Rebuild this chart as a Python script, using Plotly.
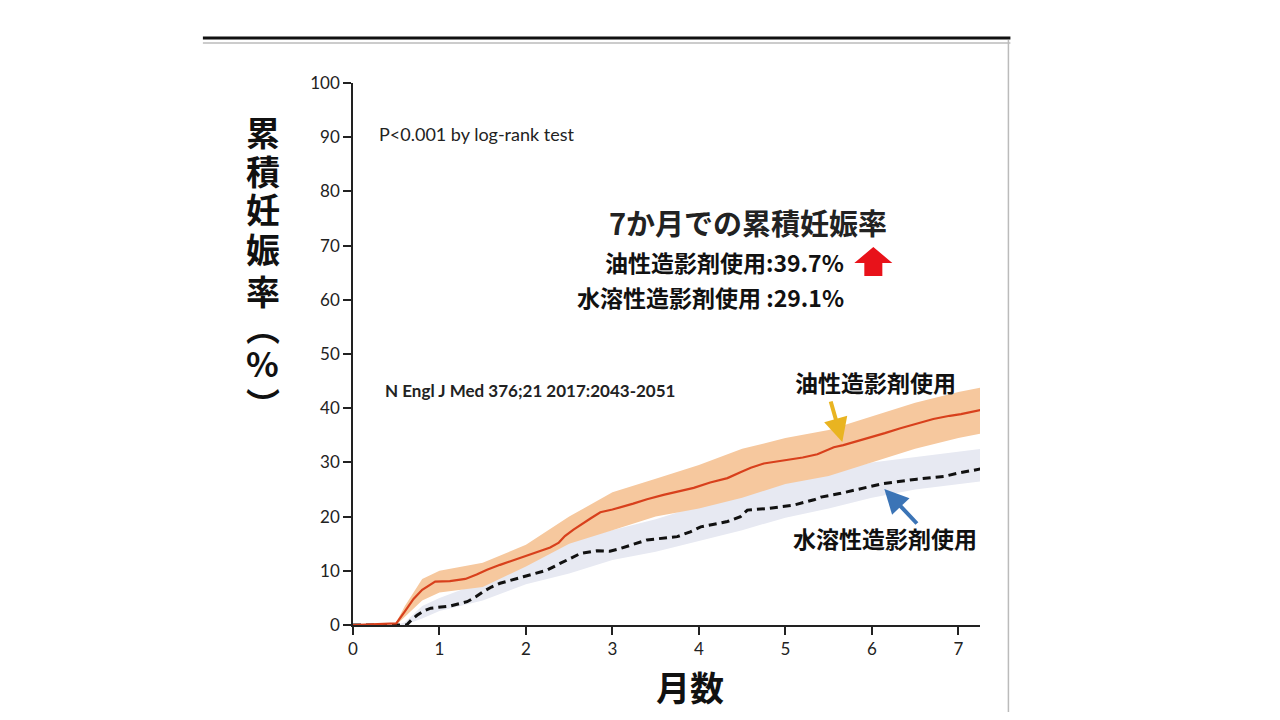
import plotly.graph_objects as go

# Kaplan-Meier style cumulative pregnancy curves
oil_months = [0, 0.5, 0.6, 0.7, 0.8, 0.95, 1.12, 1.3, 1.43, 1.55, 1.7, 1.85, 2.01, 2.15, 2.28,
              2.38, 2.45, 2.55, 2.65, 2.75, 2.86, 3.0, 3.24, 3.4, 3.59, 3.8, 3.94, 4.13, 4.33,
              4.48, 4.6, 4.75, 5.02, 5.2, 5.37, 5.56, 5.67, 5.95, 6.15, 6.33, 6.5, 6.71, 6.9,
              7.03, 7.26]
oil_rate = [0, 0.3, 2.5, 4.8, 6.5, 8.0, 8.1, 8.5, 9.3, 10.2, 11.1, 11.9, 12.8, 13.5, 14.3,
            15.2, 16.4, 17.6, 18.7, 19.7, 20.8, 21.3, 22.4, 23.2, 24.0, 24.8, 25.3, 26.3, 27.1,
            28.2, 29.0, 29.8, 30.4, 30.9, 31.5, 32.8, 33.2, 34.4, 35.4, 36.3, 37.1, 38.0, 38.6,
            38.9, 39.7]

water_months = [0, 0.62, 0.68, 0.74, 0.82, 0.9, 1.12, 1.32, 1.42, 1.51, 1.6, 1.7, 1.97, 2.24,
                2.4, 2.52, 2.63, 2.82, 2.97, 3.09, 3.25, 3.4, 3.75, 3.9, 4.02, 4.33, 4.48, 4.56,
                4.79, 5.09, 5.33, 5.41, 5.64, 5.87, 6.13, 6.52, 6.83, 6.99, 7.26]
water_rate = [0, 0, 1.0, 1.8, 2.6, 3.1, 3.5, 4.3, 5.2, 6.2, 7.0, 7.7, 8.9, 10.1,
              11.4, 12.3, 13.2, 13.7, 13.6, 14.1, 14.9, 15.7, 16.3, 17.2, 18.1, 19.1, 20.0, 21.2,
              21.5, 22.1, 23.1, 23.6, 24.3, 25.2, 26.1, 26.9, 27.4, 28.0, 28.8]

# confidence bands
band_months = [0.5, 0.6, 0.8, 1.0, 1.5, 2.0, 2.5, 3.0, 3.5, 4.0, 4.5, 5.0, 5.5, 6.0, 6.5, 7.0, 7.26]
oil_upper = [0.5, 3.5, 8.5, 10.0, 11.5, 14.8, 20.0, 24.5, 27.0, 29.5, 32.5, 34.5, 36.0, 38.5, 41.0, 43.0, 43.8]
oil_lower = [0, 1.5, 4.5, 6.0, 7.0, 10.8, 15.0, 17.5, 20.0, 21.5, 23.5, 26.0, 27.5, 30.0, 32.5, 34.5, 35.3]
water_upper = [0, 0.5, 3.5, 5.0, 8.0, 11.5, 15.5, 17.5, 19.5, 22.0, 24.5, 26.5, 28.0, 30.0, 31.0, 32.0, 32.5]
water_lower = [0, 0, 1.2, 2.6, 4.5, 7.5, 9.5, 12.0, 13.5, 15.5, 17.5, 19.8, 21.5, 23.5, 25.0, 26.0, 26.5]

x_ticks = [0, 1, 2, 3, 4, 5, 6, 7]
y_ticks = [0, 10, 20, 30, 40, 50, 60, 70, 80, 90, 100]
y_title_chars = ["累", "積", "妊", "娠", "率", "︵", "%", "︶"]

# plot area in screen pixels (page body adds an 8px offset)
OFF = 8
L, R, T, B = 353, 979.6, 83, 625
W, H = R - L, B - T


def px(x):
    return (x - L) / W


def py(y):
    return (B - y) / H


JP = "Noto Sans CJK JP"
fig = go.Figure()

# bands
fig.add_trace(go.Scatter(x=band_months + band_months[::-1], y=water_upper + water_lower[::-1],
                         fill="toself", fillcolor="#e7e9f2", line=dict(width=0),
                         mode="lines", hoverinfo="skip", showlegend=False))
fig.add_trace(go.Scatter(x=band_months + band_months[::-1], y=oil_upper + oil_lower[::-1],
                         fill="toself", fillcolor="#f6c89e", line=dict(width=0),
                         mode="lines", hoverinfo="skip", showlegend=False))

# curves
fig.add_trace(go.Scatter(x=water_months, y=water_rate, mode="lines",
                         line=dict(color="#111111", width=3, dash="8px,5px"),
                         name="水溶性造影剤使用", showlegend=False))
fig.add_trace(go.Scatter(x=oil_months, y=oil_rate, mode="lines",
                         line=dict(color="#d8401c", width=2.2),
                         name="油性造影剤使用", showlegend=False))

ann = []
# vertical y title, one glyph per annotation (tightly stacked like the slide)
y_pos = [131, 170, 209, 249, 290, 326, 362, 403]
for ch, yy in zip(y_title_chars, y_pos):
    ann.append(dict(x=px(263), y=py(yy), text="<b>%s</b>" % ch,
                    font=dict(family=JP, size=34, color="#111")))

ann += [
    dict(x=px(690), y=py(686), text="<b>月数</b>", font=dict(family=JP, size=34, color="#111")),
    dict(x=px(377), y=py(134), text="P<0.001 by log-rank test", xanchor="left",
         font=dict(family="Lato", size=18, color="#222")),
    dict(x=px(383), y=py(390), text="<b>N Engl J Med 376;21 2017:2043-2051</b>", xanchor="left",
         font=dict(family="Lato", size=17, color="#222")),
    dict(x=px(748), y=py(222), text="<b>7か月での累積妊娠率</b>",
         font=dict(family=JP, size=29, color="#222")),
    dict(x=px(846), y=py(262), text="<b>油性造影剤使用:39.7%</b>", xanchor="right",
         font=dict(family=JP, size=23, color="#111")),
    dict(x=px(846), y=py(297), text="<b>水溶性造影剤使用 :29.1%</b>", xanchor="right",
         font=dict(family=JP, size=23, color="#111")),
    dict(x=px(875), y=py(382), text="<b>油性造影剤使用</b>",
         font=dict(family=JP, size=23, color="#111")),
    dict(x=px(885), y=py(538), text="<b>水溶性造影剤使用</b>",
         font=dict(family=JP, size=23, color="#111")),
]
for a in ann:
    a.setdefault("xref", "paper")
    a.setdefault("yref", "paper")
    a.setdefault("xanchor", "center")
    a.setdefault("yanchor", "middle")
    a.setdefault("showarrow", False)

# pointer arrows
ann.append(dict(x=(842 - L) / 86.43, y=(B - 442) / 5.42, xref="x", yref="y", text="",
                showarrow=True, ax=-12, ay=-42, arrowcolor="#e9b421", arrowwidth=4,
                arrowhead=2, arrowsize=1.2))
ann.append(dict(x=(884 - L) / 86.43, y=(B - 489) / 5.42, xref="x", yref="y", text="",
                showarrow=True, ax=34, ay=36, arrowcolor="#3b74b6", arrowwidth=4,
                arrowhead=2, arrowsize=1.2))

shapes = [
    # scanned page frame
    dict(type="line", xref="paper", yref="paper", x0=px(203), x1=px(1010), y0=py(38), y1=py(38),
         line=dict(color="#111", width=3)),
    dict(type="line", xref="paper", yref="paper", x0=px(203), x1=px(1010), y0=py(43), y1=py(43),
         line=dict(color="#999", width=1)),
    dict(type="line", xref="paper", yref="paper", x0=px(1008), x1=px(1008), y0=py(40), y1=py(712),
         line=dict(color="#bbb", width=1.5)),
    # red block arrow
    dict(type="path", xref="paper", yref="paper", fillcolor="#e8121a", line=dict(width=0),
         path="M %f %f L %f %f L %f %f L %f %f L %f %f L %f %f L %f %f Z" % (
             px(873), py(247), px(892), py(263), px(882), py(263), px(882), py(276),
             px(864), py(276), px(864), py(263), px(854), py(263))),
]

fig.update_layout(
    width=1280 - OFF, height=720,
    margin=dict(l=L - OFF, r=1280 - R, t=T - OFF, b=720 + OFF - B),
    paper_bgcolor="white", plot_bgcolor="white",
    showlegend=False,
    annotations=ann,
    shapes=shapes,
    xaxis=dict(range=[0, 7.25], tickvals=x_ticks, ticks="outside", ticklen=8, tickwidth=1.5,
               tickcolor="#222", showline=True, linecolor="#222", linewidth=1.5,
               showgrid=False, zeroline=False,
               tickfont=dict(family="Lato", size=17, color="#222")),
    yaxis=dict(range=[0, 100], tickvals=y_ticks, ticks="outside", ticklen=8, tickwidth=1.5,
               tickcolor="#222", showline=True, linecolor="#222", linewidth=1.5,
               showgrid=False, zeroline=False,
               tickfont=dict(family="Lato", size=17, color="#222")),
)

fig.write_html("out.html")
